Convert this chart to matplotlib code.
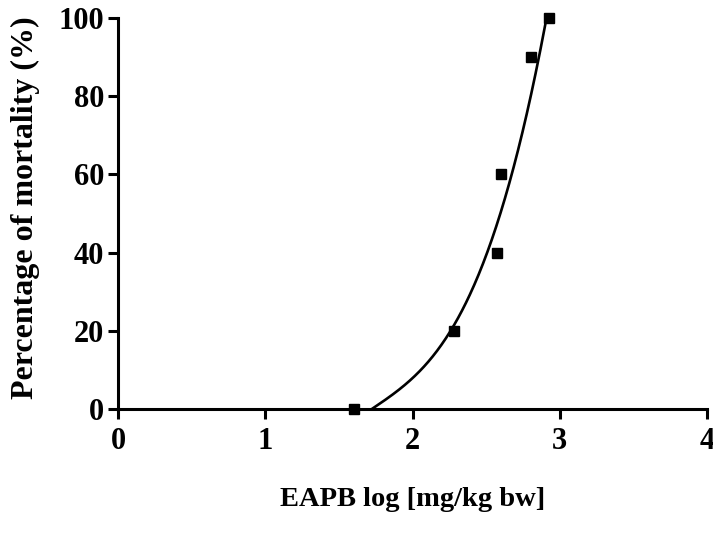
import numpy as np
import matplotlib
matplotlib.use("Agg")
import matplotlib.pyplot as plt

plt.rcParams['font.family'] = ['Liberation Serif', 'DejaVu Serif']
plt.rcParams['font.weight'] = 'bold'

log_dose = [1.60, 2.28, 2.576, 2.60, 2.805, 2.927]
mortality = [0, 20, 40, 60, 90, 100]
x_ticks = [0, 1, 2, 3, 4]
y_ticks = [0, 20, 40, 60, 80, 100]

# fitted curve: y = poly(x - fit_start), cubic coefficients
fit_start = 1.724
fit_end = 2.91
fit_coef = [41.9, 0.0, 25.4, 0.0]

fig = plt.figure(figsize=(7.13, 5.38), dpi=100)
ax = fig.add_axes([0.1655, 0.2398, 0.8261, 0.7267])

xs = np.linspace(fit_start, fit_end, 400)
ys = np.polyval(fit_coef, xs - fit_start)
ax.plot(xs, ys, color='black', lw=1.9, clip_on=False)
ax.plot(log_dose, mortality, 's', color='black', ms=7.5, clip_on=False)

ax.set_xlim(0, 4)
ax.set_ylim(0, 100)
ax.set_xticks(x_ticks)
ax.set_yticks(y_ticks)
ax.tick_params(direction='out', length=7, width=2.2, labelsize=22)
ax.tick_params(axis='x', pad=6)
ax.tick_params(axis='y', pad=3)
for s in ['top', 'right']:
    ax.spines[s].set_visible(False)
for s in ['left', 'bottom']:
    ax.spines[s].set_linewidth(2.2)
for lab in ax.get_xticklabels() + ax.get_yticklabels():
    lab.set_fontweight('bold')

ax.set_xlabel('EAPB log [mg/kg bw]', fontsize=20.5, fontweight='bold', labelpad=22)
ax.set_ylabel('Percentage of mortality (%)', fontsize=23, fontweight='bold', labelpad=8)
ax.yaxis.set_label_coords(-0.133, 0.515)

fig.savefig('out.png', dpi=100)
